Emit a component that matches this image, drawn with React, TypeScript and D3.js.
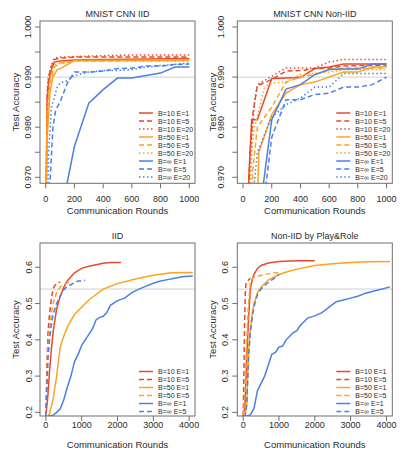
import React from "react";
import * as d3 from "d3";

type Pt = [number, number];

// ---------- Panel 1: MNIST CNN IID ----------
const cnnIidB10E1: Pt[] = [[0,0.96],[10,0.985],[20,0.989],[40,0.9915],[60,0.993],[100,0.9932],[200,0.9934],[400,0.9935],[1000,0.9937]];
const cnnIidB10E5: Pt[] = [[0,0.96],[10,0.986],[20,0.990],[40,0.992],[60,0.9935],[100,0.9938],[200,0.994],[500,0.994],[1000,0.994]];
const cnnIidB10E20: Pt[] = [[0,0.96],[10,0.987],[20,0.9905],[40,0.9925],[60,0.9938],[100,0.994],[300,0.9942],[600,0.9944],[1000,0.9944]];
const cnnIidB50E1: Pt[] = [[0,0.96],[10,0.978],[30,0.987],[50,0.990],[80,0.9915],[100,0.9917],[200,0.9933],[1000,0.9934]];
const cnnIidB50E5: Pt[] = [[0,0.96],[10,0.982],[30,0.989],[60,0.992],[100,0.9928],[200,0.9932],[1000,0.9933]];
const cnnIidB50E20: Pt[] = [[0,0.96],[10,0.984],[30,0.990],[60,0.9925],[200,0.9932],[1000,0.9932]];
const cnnIidBinfE1: Pt[] = [[100,0.96],[150,0.969],[200,0.9762],[300,0.9848],[400,0.9875],[500,0.9898],[600,0.9898],[800,0.9908],[900,0.992],[1000,0.992]];
const cnnIidBinfE5: Pt[] = [[20,0.96],[30,0.969],[50,0.980],[70,0.9835],[100,0.985],[150,0.9888],[200,0.991],[300,0.991],[400,0.9912],[500,0.9917],[600,0.9918],[700,0.9922],[800,0.9922],[900,0.9925],[1000,0.9926]];
const cnnIidBinfE20: Pt[] = [[10,0.96],[20,0.975],[40,0.984],[80,0.988],[100,0.9888],[150,0.9893],[200,0.9903],[300,0.991],[400,0.9913],[500,0.9913],[600,0.9915],[700,0.992],[800,0.9923],[1000,0.9928]];

// ---------- Panel 2: MNIST CNN Non-IID ----------
const cnnNonB10E1: Pt[] = [[30,0.96],[40,0.97],[60,0.9815],[100,0.9815],[200,0.9897],[300,0.9898],[400,0.9899],[500,0.9917],[600,0.992],[700,0.9926],[800,0.9926],[900,0.9926],[1000,0.9926]];
const cnnNonB10E5: Pt[] = [[30,0.96],[50,0.975],[70,0.983],[100,0.9883],[200,0.9895],[300,0.9912],[400,0.9913],[500,0.9917],[600,0.9918],[700,0.9922],[800,0.9923],[1000,0.9923]];
const cnnNonB10E20: Pt[] = [[40,0.96],[60,0.978],[80,0.985],[100,0.9885],[200,0.9902],[300,0.9918],[400,0.9918],[500,0.9918],[600,0.993],[700,0.9935],[1000,0.9935]];
const cnnNonB50E1: Pt[] = [[95,0.96],[110,0.975],[200,0.9825],[300,0.9868],[400,0.9885],[500,0.989],[600,0.990],[700,0.991],[800,0.991],[900,0.992],[1000,0.992]];
const cnnNonB50E5: Pt[] = [[50,0.96],[70,0.972],[100,0.980],[200,0.984],[300,0.989],[400,0.990],[500,0.9905],[600,0.9915],[700,0.9918],[1000,0.9918]];
const cnnNonB50E20: Pt[] = [[40,0.96],[60,0.975],[80,0.980],[150,0.988],[200,0.9888],[300,0.989],[400,0.9905],[600,0.991],[700,0.9915],[1000,0.9915]];
const cnnNonBinfE1: Pt[] = [[125,0.965],[200,0.9815],[300,0.9876],[400,0.9885],[500,0.9905],[600,0.9915],[700,0.9916],[800,0.9916],[900,0.9926],[1000,0.9926]];
const cnnNonBinfE5: Pt[] = [[145,0.965],[200,0.978],[300,0.9855],[400,0.9855],[500,0.9865],[600,0.9868],[700,0.988],[800,0.988],[900,0.9885],[1000,0.990]];
const cnnNonBinfE20: Pt[] = [[65,0.965],[100,0.975],[200,0.982],[300,0.9845],[400,0.9858],[500,0.988],[600,0.988],[700,0.9907],[800,0.9907],[1000,0.9907]];

// ---------- Panel 3: IID ----------
const iidB10E1: Pt[] = [[0,0.19],[50,0.24],[100,0.31],[150,0.37],[200,0.42],[300,0.485],[400,0.52],[500,0.545],[600,0.563],[800,0.585],[1000,0.597],[1200,0.603],[1400,0.607],[1600,0.611],[1800,0.613],[2100,0.613]];
const iidB10E5: Pt[] = [[0,0.19],[30,0.33],[60,0.42],[100,0.47],[150,0.51],[200,0.54],[250,0.55],[300,0.555],[400,0.56]];
const iidB50E1: Pt[] = [[50,0.19],[100,0.195],[200,0.235],[300,0.3],[400,0.38],[500,0.41],[600,0.435],[800,0.47],[1000,0.49],[1200,0.51],[1400,0.525],[1600,0.54],[2000,0.555],[2500,0.568],[3000,0.578],[3500,0.585],[4100,0.586]];
const iidB50E5: Pt[] = [[0,0.19],[30,0.28],[60,0.38],[100,0.43],[150,0.47],[200,0.5],[300,0.53],[400,0.545],[500,0.553],[600,0.557],[700,0.56]];
const iidBinfE1: Pt[] = [[20,0.186],[100,0.19],[200,0.192],[300,0.2],[400,0.21],[500,0.235],[600,0.27],[700,0.3],[800,0.34],[900,0.36],[1000,0.385],[1100,0.4],[1200,0.415],[1300,0.43],[1400,0.455],[1500,0.462],[1600,0.465],[1700,0.475],[1800,0.495],[2000,0.508],[2200,0.515],[2400,0.53],[2600,0.54],[2800,0.548],[3000,0.556],[3200,0.562],[3400,0.566],[3600,0.57],[3800,0.574],[4100,0.576]];
const iidBinfE5: Pt[] = [[0,0.19],[30,0.27],[60,0.35],[100,0.4],[150,0.44],[200,0.47],[300,0.5],[400,0.52],[500,0.538],[600,0.548],[700,0.552],[800,0.558],[900,0.562],[1000,0.562],[1100,0.564]];

// ---------- Panel 4: Non-IID by Play&Role ----------
const nonB10E1: Pt[] = [[0,0.19],[50,0.22],[100,0.35],[150,0.46],[200,0.54],[250,0.565],[300,0.58],[400,0.597],[500,0.605],[700,0.612],[1000,0.616],[1500,0.618],[2000,0.618]];
const nonB10E5: Pt[] = [[0,0.19],[20,0.3],[40,0.45],[60,0.53],[80,0.555],[100,0.56],[150,0.565],[200,0.57]];
const nonB50E1: Pt[] = [[50,0.19],[100,0.22],[150,0.37],[200,0.43],[250,0.47],[300,0.5],[400,0.53],[500,0.545],[700,0.565],[1000,0.58],[1300,0.59],[1600,0.597],[2000,0.605],[2500,0.61],[3000,0.613],[3500,0.615],[4100,0.616]];
const nonB50E5: Pt[] = [[0,0.19],[50,0.25],[100,0.4],[150,0.5],[200,0.555],[250,0.568],[300,0.572],[400,0.575],[600,0.58],[800,0.584],[1000,0.585]];
const nonBinfE1: Pt[] = [[0,0.186],[100,0.19],[200,0.193],[300,0.21],[400,0.26],[500,0.28],[600,0.3],[700,0.33],[800,0.36],[900,0.365],[1000,0.38],[1100,0.383],[1200,0.4],[1300,0.41],[1400,0.42],[1500,0.425],[1600,0.44],[1700,0.45],[1800,0.46],[2000,0.466],[2200,0.475],[2400,0.49],[2600,0.505],[2800,0.51],[3000,0.515],[3200,0.52],[3400,0.528],[3600,0.533],[3800,0.538],[4100,0.546]];
const nonBinfE5: Pt[] = [[0,0.19],[50,0.19],[100,0.22],[150,0.35],[200,0.42],[250,0.46],[300,0.49],[400,0.525],[500,0.54],[600,0.55],[700,0.558],[800,0.565],[900,0.572],[1000,0.58]];

// ---------- labels / ticks ----------
const titles = ["MNIST CNN IID", "MNIST CNN Non-IID", "IID", "Non-IID by Play&Role"];
const topXTicks = [0, 200, 400, 600, 800, 1000];
const bottomXTicks = [0, 1000, 2000, 3000, 4000];
const topYTicks = [0.97, 0.975, 0.98, 0.985, 0.99, 0.995, 1.0];
const topYLabels = [0.97, 0.98, 0.99, 1.0];
const bottomYTicks = [0.2, 0.3, 0.4, 0.5, 0.6];
const topLegend = ["B=10  E=1", "B=10  E=5", "B=10  E=20", "B=50  E=1", "B=50  E=5", "B=50  E=20", "B=\u221e  E=1", "B=\u221e  E=5", "B=\u221e  E=20"];
const bottomLegend = ["B=10  E=1", "B=10  E=5", "B=50  E=1", "B=50  E=5", "B=\u221e  E=1", "B=\u221e  E=5"];

const RED = "#E8492E";
const ORANGE = "#FFA21C";
const BLUE = "#4B7FE4";
const styleTop = [
  { c: RED, d: "" }, { c: RED, d: "5,3" }, { c: RED, d: "1.5,2.5" },
  { c: ORANGE, d: "" }, { c: ORANGE, d: "5,3" }, { c: ORANGE, d: "1.5,2.5" },
  { c: BLUE, d: "" }, { c: BLUE, d: "5,3" }, { c: BLUE, d: "1.5,2.5" },
];
const styleBottom = [
  { c: RED, d: "" }, { c: RED, d: "5,3" },
  { c: ORANGE, d: "" }, { c: ORANGE, d: "5,3" },
  { c: BLUE, d: "" }, { c: BLUE, d: "5,3" },
];

const FONT = "'Liberation Sans', Arial, Helvetica, sans-serif";
const TXT = "#2a2a2a";
const AX = "#6e6e6e";

interface PanelCfg {
  id: string;
  title: string;
  x0: number; x1: number; y0: number; y1: number;
  xDomain: [number, number];
  yDomain: [number, number];
  xTicks: number[];
  yTicks: number[];
  yLabels: number[];
  yFmt: (v: number) => string;
  series: Pt[][];
  styles: { c: string; d: string }[];
  legend: string[];
  refLine: number;
  yLabelX: number;
  yTitleX: number;
  titleY: number;
  xLabY: number;
  xTitleY: number;
  legendLastY: number;
}

function Panel({ p }: { p: PanelCfg }) {
  const x = d3.scaleLinear().domain(p.xDomain).range([p.x0, p.x1]);
  const y = d3.scaleLinear().domain(p.yDomain).range([p.y1, p.y0]);
  const line = d3.line<Pt>().x((d) => x(d[0])).y((d) => y(d[1]));
  const cx = (p.x0 + p.x1) / 2;
  const cy = (p.y0 + p.y1) / 2;
  const n = p.legend.length;
  const legX = p.x1 - 56;
  return (
    <g>
      <defs>
        <clipPath id={p.id}>
          <rect x={p.x0} y={p.y0} width={p.x1 - p.x0} height={p.y1 - p.y0} />
        </clipPath>
      </defs>
      <line x1={p.x0} x2={p.x1} y1={y(p.refLine)} y2={y(p.refLine)} stroke="#cfcfcf" strokeWidth={1} />
      <g clipPath={`url(#${p.id})`}>
        {p.series.map((s, i) => (
          <path key={i} d={line(s) || ""} fill="none" stroke={p.styles[i].c} strokeWidth={1.5}
            strokeDasharray={p.styles[i].d || undefined} />
        ))}
      </g>
      <rect x={p.x0} y={p.y0} width={p.x1 - p.x0} height={p.y1 - p.y0} fill="none" stroke={AX} strokeWidth={1} />
      {p.xTicks.map((t) => (
        <g key={t}>
          <line x1={x(t)} x2={x(t)} y1={p.y1} y2={p.y1 + 5} stroke={AX} />
          <text x={x(t)} y={p.xLabY} textAnchor="middle" fontSize={9} fontFamily={FONT} fill={TXT}>{t}</text>
        </g>
      ))}
      {p.yTicks.map((t) => (
        <line key={t} x1={p.x0 - 5} x2={p.x0} y1={y(t)} y2={y(t)} stroke={AX} />
      ))}
      {p.yLabels.map((t) => (
        <text key={t} transform={`translate(${p.yLabelX},${y(t)}) rotate(-90)`} textAnchor="middle"
          fontSize={9} fontFamily={FONT} fill={TXT}>{p.yFmt(t)}</text>
      ))}
      <text x={cx} y={p.titleY} textAnchor="middle" fontSize={9} fontFamily={FONT} fill={TXT}>{p.title}</text>
      <text x={cx} y={p.xTitleY} textAnchor="middle" fontSize={9.5} fontFamily={FONT} fill={TXT}>Communication Rounds</text>
      <text transform={`translate(${p.yTitleX},${cy}) rotate(-90)`} textAnchor="middle" fontSize={9.5}
        fontFamily={FONT} fill={TXT}>Test Accuracy</text>
      {p.legend.map((l, i) => {
        const ly = p.legendLastY - (n - 1 - i) * 8;
        return (
          <g key={l}>
            <line x1={legX} x2={legX + 14} y1={ly} y2={ly} stroke={p.styles[i].c} strokeWidth={1.5}
              strokeDasharray={p.styles[i].d || undefined} />
            <text x={legX + 19} y={ly + 2.5} fontSize={7} fontFamily={FONT} fill={TXT}>{l}</text>
          </g>
        );
      })}
    </g>
  );
}

export default function App() {
  const fmt3 = (v: number) => v.toFixed(3);
  const fmt1 = (v: number) => v.toFixed(1);
  const topY: [number, number] = [0.9688, 1.0012];
  const botY: [number, number] = [0.19, 0.667];
  const panels: PanelCfg[] = [
    {
      id: "c1", title: titles[0], x0: 40, x1: 195, y0: 21, y1: 183.3,
      xDomain: [-40, 1040], yDomain: topY, xTicks: topXTicks, yTicks: topYTicks, yLabels: topYLabels, yFmt: fmt3,
      series: [cnnIidB10E1, cnnIidB10E5, cnnIidB10E20, cnnIidB50E1, cnnIidB50E5, cnnIidB50E20, cnnIidBinfE1, cnnIidBinfE5, cnnIidBinfE20],
      styles: styleTop, legend: topLegend, refLine: 0.99,
      yLabelX: 31, yTitleX: 19, titleY: 16.5, xLabY: 202, xTitleY: 213.5, legendLastY: 177,
    },
    {
      id: "c2", title: titles[1], x0: 237.3, x1: 392.3, y0: 21, y1: 183.3,
      xDomain: [-40, 1040], yDomain: topY, xTicks: topXTicks, yTicks: topYTicks, yLabels: topYLabels, yFmt: fmt3,
      series: [cnnNonB10E1, cnnNonB10E5, cnnNonB10E20, cnnNonB50E1, cnnNonB50E5, cnnNonB50E20, cnnNonBinfE1, cnnNonBinfE5, cnnNonBinfE20],
      styles: styleTop, legend: topLegend, refLine: 0.99,
      yLabelX: 224, yTitleX: 216, titleY: 16.5, xLabY: 202, xTitleY: 213.5, legendLastY: 177,
    },
    {
      id: "c3", title: titles[2], x0: 40, x1: 195, y0: 243, y1: 416,
      xDomain: [-164, 4164], yDomain: botY, xTicks: bottomXTicks, yTicks: bottomYTicks, yLabels: bottomYTicks, yFmt: fmt1,
      series: [iidB10E1, iidB10E5, iidB50E1, iidB50E5, iidBinfE1, iidBinfE5],
      styles: styleBottom, legend: bottomLegend, refLine: 0.54,
      yLabelX: 31.5, yTitleX: 19, titleY: 239, xLabY: 428, xTitleY: 448, legendLastY: 411.5,
    },
    {
      id: "c4", title: titles[3], x0: 237.3, x1: 392.3, y0: 243, y1: 416,
      xDomain: [-164, 4164], yDomain: botY, xTicks: bottomXTicks, yTicks: bottomYTicks, yLabels: bottomYTicks, yFmt: fmt1,
      series: [nonB10E1, nonB10E5, nonB50E1, nonB50E5, nonBinfE1, nonBinfE5],
      styles: styleBottom, legend: bottomLegend, refLine: 0.54,
      yLabelX: 228, yTitleX: 216, titleY: 239, xLabY: 428, xTitleY: 448, legendLastY: 411.5,
    },
  ];
  return (
    <svg width={411} height={458} style={{ position: "absolute", left: 0, top: 0, background: "#fff" }}>
      <rect x={0} y={0} width={411} height={458} fill="#fff" />
      {panels.map((p) => (
        <Panel key={p.id} p={p} />
      ))}
    </svg>
  );
}
